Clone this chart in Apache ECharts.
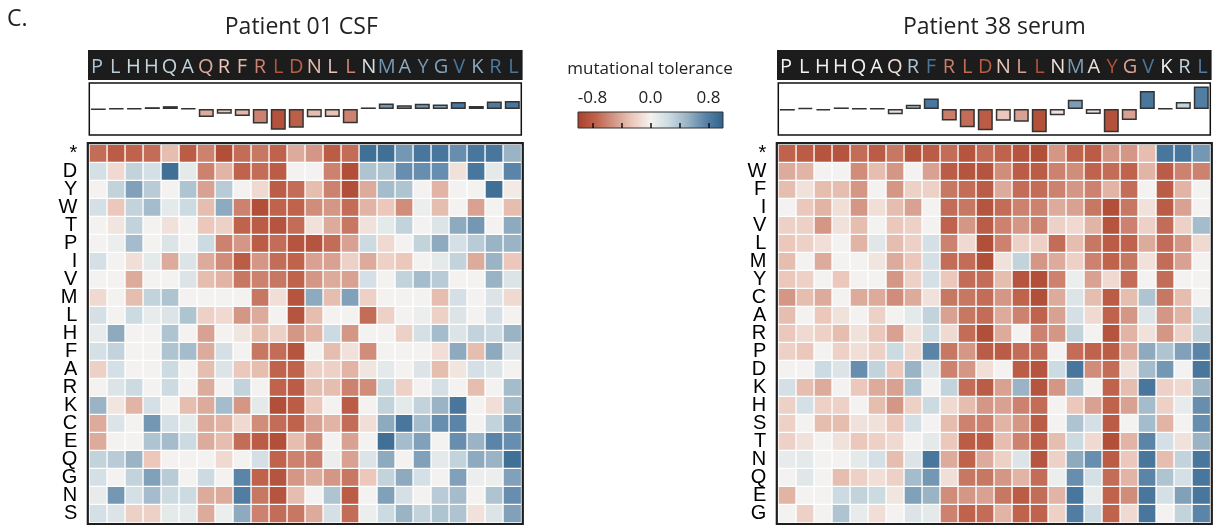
<!DOCTYPE html>
<html><head><meta charset="utf-8">
<script src="https://cdn.jsdelivr.net/npm/echarts@6/dist/echarts.min.js"></script>
<style>html,body{margin:0;padding:0;background:#fff;}#c{width:1222px;height:525px;}</style>
</head><body><div id="c"></div>
<script>
// ---------------- data ----------------
const sequence = ['P','L','H','H','Q','A','Q','R','F','R','L','D','N','L','L','N','M','A','Y','G','V','K','R','L'];
const rowsCsf = ['*','D','Y','W','T','P','I','V','M','L','H','F','A','R','K','C','E','Q','G','N','S'];
const rowsSerum = ['*','W','F','I','V','L','M','Y','C','A','R','P','D','K','H','S','T','N','Q','E','G'];

const csfValues = [
 [-0.7,-0.8,-0.75,-0.7,-0.3,-0.8,-0.6,-0.9,-0.7,-0.65,-0.75,-0.4,-0.5,-0.8,-0.7,0.9,0.9,0.65,0.85,0.85,0.7,0.85,0.85,0.5],
 [0.2,-0.15,0.3,0.2,0.9,0.1,-0.6,-0.35,-0.75,-0.7,-0.8,0,0,-0.6,-0.9,0.4,0.4,0.7,0.7,0.7,-0.1,0.85,0.1,0.75],
 [0,0.3,0.6,0.35,0,0.4,-0.45,0.35,0,-0.15,-0.8,-0.7,-0.3,-0.6,-0.9,-0.4,0.45,0.4,0,-0.35,0,0,0.9,-0.05],
 [0.2,-0.25,0.3,0.45,0.1,0.25,-0.3,0.55,-0.6,-0.9,-0.75,-0.75,-0.55,-0.5,-0.7,-0.35,-0.25,-0.55,0.05,-0.3,0,-0.45,0,-0.3],
 [0,-0.08,0.3,0,-0.1,0,-0.25,-0.2,-0.75,-0.8,-0.85,-0.7,-0.1,-0.4,-0.65,-0.1,0.1,0.3,0,0.15,0.55,0.65,0,0.55],
 [0,0.05,0.45,0,0.15,0,0.25,-0.6,-0.5,-0.8,-0.7,-0.85,-0.85,-0.7,-0.45,0.25,-0.15,0,0.3,0.55,0.2,0.35,0.5,0.5],
 [0.2,0,-0.12,0.1,-0.4,0.15,-0.4,-0.55,-0.8,-0.5,-0.7,-0.75,-0.45,-0.45,-0.2,-0.4,-0.2,-0.25,0,0.1,0.3,-0.4,0.5,-0.25],
 [0,0,-0.4,0,0,0.15,-0.3,-0.35,-0.65,-0.6,-0.65,-0.75,-0.5,-0.4,-0.45,0.2,0,0.3,0.45,0.35,0,0,0.5,0.15],
 [-0.15,0,-0.3,0.3,0.4,0,0,0,0,-0.65,-0.12,-0.85,0.55,-0.3,0.6,-0.2,0,0,0,-0.3,0.2,0,0.15,-0.15],
 [0.2,0,0.25,0.08,0.15,0.4,-0.2,-0.15,-0.5,-0.4,0,-0.85,-0.3,0,0,-0.7,-0.2,0,0.05,-0.2,0.15,0,0.2,0],
 [0.08,0.55,0,0,0.4,0,-0.45,0,-0.08,-0.3,-0.2,-0.5,-0.35,0.25,-0.5,0,0,-0.2,0.2,0.45,0.15,0.3,0.25,0.5],
 [0.2,0.3,0,0,0.4,0.45,-0.4,0.2,0,-0.65,-0.7,-0.85,0,-0.3,-0.1,-0.55,0,0,0,-0.12,0.55,-0.3,0.55,0.15],
 [-0.2,0.2,0,0,0.25,0,-0.3,0.15,-0.25,-0.3,-0.75,-0.75,-0.2,-0.2,-0.35,-0.08,0.1,0,0.15,-0.3,-0.08,0.2,0.15,0],
 [0,0.15,0.25,0,0.25,0,-0.4,0,0.3,0,-0.75,-0.8,-0.3,-0.3,-0.6,-0.55,0.25,-0.2,0,0.2,0,-0.3,0,0.45],
 [0.5,-0.08,-0.35,0.2,0,-0.3,-0.4,0.45,-0.5,0.1,-0.9,-0.8,-0.25,0,-0.8,0,0.3,0.1,0.3,0.5,0.85,0,-0.12,0.45],
 [-0.4,0.15,0,0.65,0.2,0.1,-0.4,-0.35,-0.15,-0.55,-0.7,-0.75,-0.45,-0.35,-0.7,-0.12,0.55,0.85,0.45,0.7,0.75,0,0.3,0.65],
 [-0.4,0,0,0.4,0.45,0.25,-0.4,-0.3,-0.7,-0.8,-0.9,-0.3,-0.55,0,-0.45,0,0.9,0.45,0.6,0,0.7,0.5,0.75,0.7],
 [0.3,0.35,0.5,-0.25,0,0,0,-0.15,0,0.2,-0.75,-0.6,-0.6,0.05,-0.45,0.15,0.55,0,0.6,0.1,0.3,0.55,0.5,0.9],
 [0.2,0,0.3,0.6,0.35,0,0.25,0,0.75,-0.75,-0.85,-0.5,-0.4,-0.5,-0.65,-0.25,0.3,0.55,0.2,0,0.6,0.05,0.05,0.6],
 [0.08,0.65,0.2,0.45,0.25,0.25,-0.4,-0.4,0.8,-0.65,-0.85,-0.3,0,0.4,-0.8,0,0.6,0.2,0,0.35,0.45,0,0.4,0.7],
 [0.2,0.15,-0.2,-0.2,0.1,0.1,-0.4,0.05,0.55,-0.6,-0.7,-0.65,-0.4,0.2,-0.7,0.05,0.25,0.5,0.3,0.4,0.4,-0.1,0.15,0.6]
];

const serumValues = [
 [-0.75,-0.8,-0.85,-0.85,-0.7,-0.8,-0.65,-0.85,-0.8,-0.7,-0.85,-0.7,-0.75,-0.85,-0.9,-0.5,-0.75,-0.8,-0.5,-0.5,-0.3,0.85,0.85,0.65],
 [-0.4,-0.35,0,0,-0.55,-0.3,-0.5,0,-0.45,-0.8,-0.85,-0.85,-0.55,-0.8,-0.8,-0.6,-0.55,-0.75,-0.7,-0.75,-0.35,-0.8,-0.6,-0.6],
 [-0.3,-0.1,-0.3,-0.3,-0.5,0,-0.5,-0.2,-0.2,-0.65,-0.7,-0.8,-0.4,-0.7,-0.7,-0.6,-0.5,-0.6,-0.35,-0.7,0,-0.8,-0.35,0],
 [0,-0.25,-0.35,-0.12,-0.5,-0.12,-0.3,-0.45,0,-0.7,-0.65,-0.85,-0.7,-0.6,-0.6,-0.4,-0.45,-0.65,-0.9,-0.65,-0.1,-0.8,-0.45,0],
 [-0.2,-0.2,-0.5,-0.1,-0.3,0,-0.25,-0.2,0,-0.75,-0.5,-0.8,-0.6,-0.5,-0.6,-0.2,-0.15,-0.35,-0.85,-0.6,-0.2,-0.7,-0.2,0.45],
 [-0.25,-0.2,-0.12,0,-0.35,0.12,-0.3,-0.2,0.2,-0.6,-0.15,-0.9,-0.6,-0.2,-0.2,-0.7,-0.3,-0.65,-0.8,-0.75,-0.4,-0.7,-0.5,-0.15],
 [-0.3,0,-0.4,0,0,-0.08,-0.4,-0.25,0.2,-0.7,-0.7,-0.9,-0.1,0.3,-0.5,-0.4,-0.2,-0.6,-0.75,-0.65,-0.1,-0.7,-0.45,0],
 [-0.25,-0.2,0,-0.25,0,0,-0.5,-0.2,0.2,-0.25,-0.7,-0.7,-0.3,-0.85,-0.9,-0.6,0.05,-0.45,-0.15,-0.7,0,-0.7,0,0],
 [-0.5,-0.3,-0.4,0,-0.4,-0.4,-0.55,-0.4,-0.1,-0.65,-0.65,-0.7,-0.5,-0.75,-0.9,-0.4,0.15,-0.3,-0.8,-0.3,0.4,-0.65,-0.3,0],
 [-0.3,0,-0.25,-0.1,0,-0.2,0,0.1,0.3,-0.45,-0.65,-0.7,-0.4,-0.6,-0.75,-0.45,0.2,-0.15,-0.75,-0.5,0.15,-0.5,-0.35,0.25],
 [-0.25,-0.15,-0.2,-0.3,-0.1,-0.25,-0.45,-0.1,0.25,-0.15,-0.7,-0.9,-0.4,0,-0.6,-0.5,0.3,0,-0.85,-0.35,-0.1,-0.5,-0.2,0.3],
 [-0.2,-0.25,0,-0.2,-0.12,-0.2,0.25,-0.15,0.75,-0.65,-0.5,-0.8,-0.8,-0.7,-0.7,0,-0.7,-0.75,-0.8,-0.4,0.55,0.4,0.6,0.75],
 [0,0,0.25,0.15,0.7,0.3,-0.25,0.5,0.15,-0.6,-0.5,-0.12,0,-0.8,-0.85,0.25,0.85,-0.55,-0.7,-0.1,0.45,0.65,0,0.85],
 [0.2,-0.3,-0.4,0,-0.25,-0.4,-0.45,0.4,0,0.3,-0.7,-0.8,-0.45,0.5,-0.85,-0.5,0.4,0,-0.75,-0.3,0.85,-0.2,-0.15,0.5],
 [-0.2,0.2,-0.2,-0.2,0,-0.3,-0.5,-0.2,0.25,-0.15,-0.3,-0.5,-0.45,-0.6,-0.7,0,-0.25,-0.45,-0.75,-0.45,0.45,-0.2,0.08,0.7],
 [-0.2,0,-0.3,-0.3,-0.1,-0.1,-0.25,0.2,0,-0.3,-0.6,-0.6,-0.35,-0.5,-0.8,0,0.4,0.2,-0.8,0,0.45,-0.35,0,0.7],
 [-0.2,-0.1,0,-0.1,-0.25,-0.2,-0.15,0,0.1,-0.25,-0.8,-0.8,-0.3,-0.6,-0.8,-0.3,0.25,-0.15,-0.9,-0.35,0.75,0.2,-0.1,0.5],
 [0.08,0.1,0,0,0.1,0.2,-0.3,0.15,0.85,-0.4,-0.75,-0.4,-0.2,0.15,-0.85,-0.2,0.55,0.7,-0.8,-0.25,0.85,-0.3,0.3,0.85],
 [0,0.12,0,-0.3,-0.2,-0.12,-0.2,0.45,0.65,-0.12,-0.65,-0.65,-0.5,-0.35,-0.7,0.05,0.7,0.2,-0.7,-0.35,0.75,0.4,0.2,0.85],
 [-0.35,0,0,0.25,0.3,0.25,-0.08,0.6,0.5,-0.55,-0.5,-0.45,-0.65,-0.8,-0.7,-0.35,0.85,0.08,-0.75,-0.55,0.85,0.2,0.6,0.85],
 [0,-0.2,0,0.4,0.08,-0.12,0,0.15,0.1,-0.6,-0.75,-0.7,-0.35,-0.75,-0.75,-0.2,0.8,0.25,-0.75,-0.15,0.85,0,0.3,0.75]
];

// per-position summary bars (height) and their tolerance colour score
const csfBars = [-0.01,0.02,0.02,0.07,0.11,0.02,-0.31,-0.18,-0.27,-0.56,-0.8,-0.72,-0.32,-0.31,-0.55,0.06,0.21,0.14,0.2,0.17,0.27,0.12,0.29,0.31];
const csfScore = [0.4,0.35,0.25,0.3,0.3,0.3,-0.4,-0.25,-0.33,-0.6,-0.88,-0.78,-0.3,-0.27,-0.6,0.2,0.65,0.55,0.65,0.6,0.85,0.55,0.82,0.85];
const serumBars = [-0.06,0.04,-0.05,0.06,0.01,0.01,-0.2,0.16,0.4,-0.44,-0.7,-0.82,-0.45,-0.49,-0.89,-0.24,0.36,-0.19,-0.89,-0.42,0.69,0.02,0.27,0.87];
const serumScore = [0,0,0,0,0,0,-0.12,0.4,0.85,-0.62,-0.7,-0.8,-0.25,-0.45,-0.88,-0.1,0.62,-0.1,-0.88,-0.45,0.85,0,0.3,0.8];

const colorbarTicks = [-0.8,-0.4,0,0.4,0.8];
const colorbarLabels = [-0.8,0,0.8];

// ---------------- styling / layout ----------------
const PAL = ['#a9412c','#bf634c','#d49786','#ebc8bb','#f4f2f0','#ccdbe2','#9ab4c5','#5a84a8','#30628c'];
function hex2rgb(h){return [parseInt(h.slice(1,3),16),parseInt(h.slice(3,5),16),parseInt(h.slice(5,7),16)];}
function cmap(v){
  v = Math.max(-1, Math.min(1, v));
  const t = (v + 1) / 2 * (PAL.length - 1);
  const i = Math.min(PAL.length - 2, Math.floor(t));
  const f = t - i;
  const a = hex2rgb(PAL[i]), b = hex2rgb(PAL[i + 1]);
  return 'rgb(' + a.map((x, k) => Math.round(x + (b[k] - x) * f)).join(',') + ')';
}
const G = {lx: 89.3, rx: 778.3, w: 432, hmTop: 144.7, hmH: 378, barTop: 83, barH: 52, seqTop: 50, seqH: 30};
const cols = sequence.map((s, i) => String(i));

function heatData(mat){
  const out = [];
  mat.forEach((row, r) => row.forEach((v, c) => out.push([c, r, v])));
  return out;
}
function barData(vals, score){
  return vals.map((v, i) => ({value: v, itemStyle: {color: cmap(score[i])}}));
}
const rowLabel = {interval: 0, fontSize: 20, color: '#000', margin: 12, fontFamily: 'Liberation Sans'};
const seqLabel = (score) => ({inside: true, interval: 0, margin: 3, fontSize: 20, fontWeight: 500, fontFamily: 'Open Sans',
  color: (v, i) => cmap(score[i])});
const hidden = {show: false};

const chart = echarts.init(document.getElementById('c'), null, {renderer: 'canvas'});
chart.setOption({
  animation: false,
  backgroundColor: '#fff',
  grid: [
    {left: G.lx, top: G.hmTop, width: G.w, height: G.hmH},
    {left: G.rx, top: G.hmTop, width: G.w, height: G.hmH},
    {left: G.lx, top: G.barTop, width: G.w, height: G.barH, show: true, borderColor: '#111', borderWidth: 1.5, backgroundColor: '#fff'},
    {left: G.rx, top: G.barTop, width: G.w, height: G.barH, show: true, borderColor: '#111', borderWidth: 1.5, backgroundColor: '#fff'},
    {left: G.lx - 1.3, top: G.seqTop, width: G.w + 2.6, height: G.seqH, show: true, backgroundColor: '#1c1c1c', borderWidth: 0},
    {left: G.rx - 1.3, top: G.seqTop, width: G.w + 2.6, height: G.seqH, show: true, backgroundColor: '#1c1c1c', borderWidth: 0},
    {left: 578, top: 112, width: 145, height: 16, show: true, borderColor: '#333', borderWidth: 1,
     backgroundColor: new echarts.graphic.LinearGradient(0, 0, 1, 0,
       PAL.map((c, i) => ({offset: i / (PAL.length - 1), color: c})))}
  ],
  xAxis: [
    {gridIndex: 0, type: 'category', data: cols, show: false},
    {gridIndex: 1, type: 'category', data: cols, show: false},
    {gridIndex: 2, type: 'category', data: cols, show: false},
    {gridIndex: 3, type: 'category', data: cols, show: false},
    {gridIndex: 4, type: 'category', data: sequence, axisLine: hidden, axisTick: hidden, axisLabel: seqLabel(csfScore)},
    {gridIndex: 5, type: 'category', data: sequence, axisLine: hidden, axisTick: hidden, axisLabel: seqLabel(serumScore)},
    {gridIndex: 6, type: 'value', min: -1, max: 1, position: 'top', axisLine: hidden, splitLine: hidden,
     axisTick: {show: true, customValues: colorbarTicks, length: 5, lineStyle: {color: '#111', width: 1.5}},
     axisLabel: {customValues: colorbarLabels, formatter: v => v.toFixed(1), fontSize: 17, color: '#222', margin: 5, fontFamily: 'Open Sans'}}
  ],
  yAxis: [
    {gridIndex: 0, type: 'category', data: rowsCsf, inverse: true, axisLine: hidden, axisTick: hidden, axisLabel: rowLabel},
    {gridIndex: 1, type: 'category', data: rowsSerum, inverse: true, axisLine: hidden, axisTick: hidden, axisLabel: rowLabel},
    {gridIndex: 2, type: 'value', min: -1, max: 1, show: false},
    {gridIndex: 3, type: 'value', min: -1, max: 1, show: false},
    {gridIndex: 4, type: 'value', show: false},
    {gridIndex: 5, type: 'value', show: false},
    {gridIndex: 6, type: 'value', show: false}
  ],
  visualMap: [{type: 'continuous', show: false, min: -1, max: 1, dimension: 2, seriesIndex: [0, 1], inRange: {color: PAL}}],
  series: [
    {type: 'heatmap', xAxisIndex: 0, yAxisIndex: 0, data: heatData(csfValues),
     itemStyle: {borderColor: '#fff', borderWidth: 1.3}, emphasis: {disabled: true}},
    {type: 'heatmap', xAxisIndex: 1, yAxisIndex: 1, data: heatData(serumValues),
     itemStyle: {borderColor: '#fff', borderWidth: 1.3}, emphasis: {disabled: true}},
    {type: 'bar', xAxisIndex: 2, yAxisIndex: 2, data: barData(csfBars, csfScore), barWidth: 15,
     itemStyle: {borderColor: '#333', borderWidth: 1.5}},
    {type: 'bar', xAxisIndex: 3, yAxisIndex: 3, data: barData(serumBars, serumScore), barWidth: 15,
     itemStyle: {borderColor: '#333', borderWidth: 1.5}}
  ],
  graphic: [
    {type: 'text', x: 7, y: 19, style: {text: 'C.', fontSize: 23, fontFamily: 'Open Sans', fill: '#222', align: 'left', verticalAlign: 'middle'}},
    {type: 'text', x: G.lx + G.w / 2 - 4, y: 27, style: {text: 'Patient 01 CSF', fontSize: 23, fontFamily: 'Open Sans', fill: '#222', align: 'center', verticalAlign: 'middle'}},
    {type: 'text', x: G.rx + G.w / 2, y: 27, style: {text: 'Patient 38 serum', fontSize: 23, fontFamily: 'Open Sans', fill: '#222', align: 'center', verticalAlign: 'middle'}},
    {type: 'text', x: 650, y: 69, style: {text: 'mutational tolerance', fontSize: 17, fontFamily: 'Open Sans', fill: '#222', align: 'center', verticalAlign: 'middle'}},
    {type: 'rect', z: 100, shape: {x: G.lx - 1.5, y: G.hmTop - 1.5, width: G.w + 3, height: G.hmH + 3}, style: {fill: 'none', stroke: '#1e1e1e', lineWidth: 2.2}},
    {type: 'rect', z: 100, shape: {x: G.rx - 1.5, y: G.hmTop - 1.5, width: G.w + 3, height: G.hmH + 3}, style: {fill: 'none', stroke: '#1e1e1e', lineWidth: 2.2}}
  ]
});
</script>
</body></html>
